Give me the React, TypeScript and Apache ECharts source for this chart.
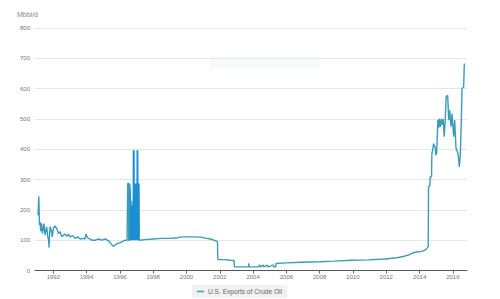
import React, { useEffect, useRef } from "react";
import * as echarts from "echarts";

// decimal years (x) and exports in Mbbl/d (y)
const years: number[] = [
  1991.08, 1991.13, 1991.17, 1991.21, 1991.24, 1991.3, 1991.34, 1991.39, 1991.44, 1991.5,
  1991.55, 1991.6, 1991.67, 1991.72, 1991.74, 1991.8, 1991.88, 1991.94, 1992.0, 1992.1,
  1992.21, 1992.31, 1992.41, 1992.51, 1992.61, 1992.71, 1992.81, 1992.91, 1993.01, 1993.17,
  1993.31, 1993.45, 1993.62, 1993.78, 1993.9, 1993.96, 1994.05, 1994.18, 1994.32, 1994.52,
  1994.72, 1994.92, 1995.12, 1995.32, 1995.48, 1995.6, 1995.7, 1995.8, 1995.9, 1996.03,
  1996.19, 1996.33, 1996.43,
  1996.46, 1996.47, 1996.52, 1996.53, 1996.58, 1996.59, 1996.63, 1996.64, 1996.66, 1996.68,
  1996.7, 1996.72, 1996.74, 1996.76, 1996.78, 1996.8, 1996.81, 1996.83, 1996.85, 1996.86,
  1996.88, 1996.9, 1996.92, 1996.94, 1996.96, 1996.98, 1997.0, 1997.02, 1997.04, 1997.06,
  1997.07, 1997.09, 1997.11, 1997.13, 1997.15, 1997.17,
  1997.2, 1997.5, 1998.0, 1998.5, 1999.0, 1999.4, 1999.7, 2000.0, 2000.4, 2000.85,
  2001.2, 2001.5, 2001.75, 2001.86, 2001.88, 2002.3, 2002.6, 2002.86, 2002.88, 2003.5,
  2003.72, 2003.74, 2003.76, 2004.3, 2004.4, 2004.45, 2004.6, 2004.65, 2004.85, 2004.9,
  2005.2, 2005.25, 2005.36, 2005.38, 2006.0, 2006.9, 2008.0, 2008.88, 2009.91, 2010.92,
  2011.92, 2012.5, 2012.73, 2013.0, 2013.33, 2013.6, 2013.73, 2014.13, 2014.35, 2014.44,
  2014.52, 2014.54, 2014.62, 2014.64, 2014.72, 2014.74, 2014.8, 2014.84, 2014.9, 2014.94,
  2014.98, 2015.03, 2015.1, 2015.14, 2015.18, 2015.24, 2015.3, 2015.36, 2015.42, 2015.48,
  2015.54, 2015.6, 2015.69, 2015.75, 2015.81, 2015.89, 2015.95, 2016.05, 2016.11, 2016.19,
  2016.25, 2016.31, 2016.39, 2016.45, 2016.51, 2016.55, 2016.65, 2016.69,
];

const exportsMbbl: number[] = [
  182, 245, 150, 160, 130, 155, 122, 135, 155, 117,
  130, 144, 111, 100, 76, 144, 133, 111, 139, 147,
  139, 122, 128, 111, 117, 120, 113, 120, 111, 115,
  106, 111, 104, 106, 104, 120, 108, 104, 100, 100,
  104, 100, 104, 98, 87, 80, 83, 88, 90, 92,
  97, 100, 99,
  99, 287, 287, 100, 100, 287, 250, 100, 230, 100,
  215, 100, 210, 100, 230, 100, 397, 100, 397, 100,
  287, 100, 287, 100, 287, 100, 287, 100, 397, 100,
  397, 100, 287, 100, 287, 100,
  100, 102, 104, 106, 106, 107, 111, 111, 111, 110,
  106, 103, 98, 95, 36, 36, 34, 33, 12, 12,
  12, 24, 12, 12, 18, 12, 18, 12, 18, 12,
  18, 12, 12, 23, 25, 27, 29, 31, 34, 35,
  38, 41, 43, 46, 51, 58, 60, 63, 68, 73,
  78, 276, 280, 309, 309, 386, 400, 419, 410, 408,
  380, 390, 496, 470, 501, 474, 500, 480, 500, 441,
  496, 573, 578, 496, 529, 474, 518, 441, 496, 403,
  395, 386, 342, 386, 496, 600, 606, 683,
];

const tickYears: number[] = [1992, 1994, 1996, 1998, 2000, 2002, 2004, 2006, 2008, 2010, 2012, 2014, 2016];
const seriesName = "U.S. Exports of Crude Oil";
const yUnit = "Mbbl/d";

export default function App() {
  const ref = useRef<HTMLDivElement>(null);
  useEffect(() => {
    if (!ref.current) return;
    const chart = echarts.init(ref.current, null, { renderer: "svg" });
    const data = years.map((y, i) => [y, exportsMbbl[i]]);
    const font = "Liberation Sans, Arial, sans-serif";
    chart.setOption({
      animation: false,
      backgroundColor: "#ffffff",
      grid: { left: 35, right: 33, top: 28, bottom: 28.5 },
      graphic: [
        {
          type: "rect",
          left: 210,
          top: 56,
          shape: { width: 110, height: 12 },
          style: { fill: "#f3f9fc", opacity: 0.8 },
          silent: true,
        },
      ],
      legend: {
        left: 192,
        top: 285,
        data: [seriesName],
        icon: "rect",
        itemWidth: 7,
        itemHeight: 1.5,
        itemGap: 4,
        padding: [3, 5, 3, 5],
        backgroundColor: "#f1f1f1",
        textStyle: { fontSize: 6.6, color: "#666", fontFamily: font, padding: [0, 0, 0, -1] },
      },
      visualMap: {
        show: false,
        type: "piecewise",
        dimension: 0,
        seriesIndex: 0,
        pieces: [{ min: 1996.6, max: 1997.16, color: "#1c8fd4" }],
        outOfRange: { color: "#3a9cba" },
      },
      xAxis: {
        type: "value",
        min: 1990.9,
        max: 2016.85,
        splitLine: { show: false },
        axisLine: { show: true, lineStyle: { color: "#555", width: 1 } },
        axisTick: { show: true, customValues: tickYears, length: 3, lineStyle: { color: "#666" } },
        axisLabel: {
          customValues: tickYears,
          fontSize: 6,
          color: "#777",
          fontFamily: font,
          margin: 3,
          formatter: (v: number) => String(Math.round(v)),
        },
      },
      yAxis: {
        type: "value",
        min: 0,
        max: 800,
        interval: 100,
        name: yUnit,
        nameLocation: "end",
        nameGap: 10,
        nameTextStyle: { fontSize: 7, color: "#888", fontFamily: font, align: "left", padding: [0, 0, 0, -18] },
        axisLine: { show: false },
        axisTick: { show: false },
        axisLabel: { fontSize: 6, color: "#777", fontFamily: font, margin: 5 },
        splitLine: { lineStyle: { color: "#e6e6e6", width: 1 } },
      },
      series: [
        {
          name: seriesName,
          type: "line",
          data,
          showSymbol: false,
          symbol: "none",
          color: "#3a9cba",
          lineStyle: { width: 1.4 },
        },
      ],
    });
    return () => chart.dispose();
  }, []);
  return (
    <div
      ref={ref}
      style={{ position: "fixed", left: 0, top: 0, width: 500, height: 299, background: "#fff" }}
    />
  );
}
